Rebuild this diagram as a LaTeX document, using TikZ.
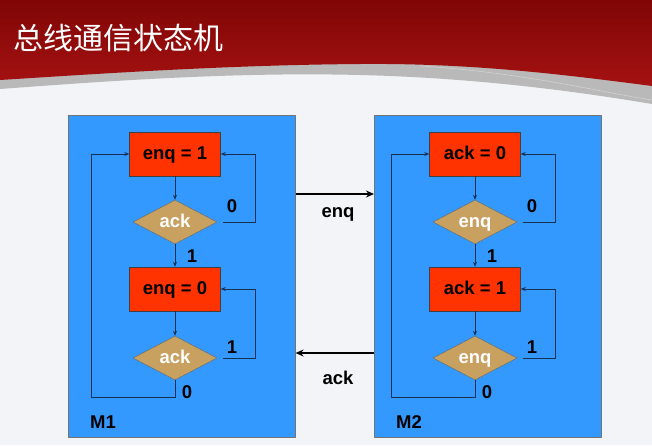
\documentclass[tikz,border=0pt]{standalone}
\usepackage{fontspec}
\setmainfont{Liberation Sans}
\newfontfamily\cjk{Noto Sans CJK SC}
\usetikzlibrary{shapes.geometric,arrows.meta,calc}
\definecolor{headred}{RGB}{165,18,18}
\definecolor{headdark}{RGB}{128,6,6}
\definecolor{pagebg}{RGB}{242,244,247}
\definecolor{boxblue}{RGB}{51,153,255}
\definecolor{statered}{RGB}{255,51,0}
\definecolor{testtan}{RGB}{200,160,96}
\definecolor{wirecol}{RGB}{22,48,82}

\begin{document}
\begin{tikzpicture}[x=1pt,y=-1pt,line join=round,
  font=\bfseries\fontsize{18.5}{21}\selectfont,
  machine/.style={draw=black!55,fill=boxblue,line width=0.6pt,inner sep=0pt,anchor=north west,
    minimum width=227pt,minimum height=322pt},
  state/.style={draw=black!75,fill=statered,minimum width=91pt,minimum height=44pt,inner sep=0pt,
    text height=13pt,text depth=3pt},
  test/.style={diamond,draw=black!60,fill=testtan,text=white,aspect=2,inner sep=0pt,
    minimum width=84pt,minimum height=44pt,text height=13pt,text depth=3pt},
  wire/.style={draw=wirecol,line width=0.8pt,-{Stealth[length=5pt,width=4pt]}},
  bus/.style={draw=black,line width=1.6pt,-{Stealth[length=8pt,width=7pt]}}]
  \useasboundingbox (0,0) rectangle (652,445);
  % page and header band
  \fill[pagebg] (0,0) rectangle (652,445);
  \fill[gray!55] (0,60) -- (0,89) .. controls (120,80) and (240,72) .. (360,75)
    .. controls (480,78) and (580,92) .. (652,104) -- (652,60) -- cycle;
  \shade[top color=headdark,bottom color=headred] (0,0) -- (652,0) -- (652,86)
    .. controls (560,74) and (470,63) .. (360,64) .. controls (230,65) and (110,73) .. (0,80) -- cycle;
  \draw[white,opacity=0.35,line width=0.6pt] (420,66) .. controls (520,72) and (600,92) .. (652,100);
  \node[text=white,anchor=west,font=\cjk\fontsize{30}{32}\selectfont] (title) at (10,38) {总线通信状态机};
  % the two machines
  \foreach \m/\bx/\dx/\out/\va/\vb/\inp in {1/68/0/enq/1/0/ack, 2/374/300/ack/0/1/enq}{
    \node[machine] (box\m) at (\bx,115) {};
    \node[state] (s\m1) at (175+\dx,154) {\out{} = \va};
    \node[test]  (d\m1) at (175+\dx,222) {\inp};
    \node[state] (s\m2) at (175+\dx,289) {\out{} = \vb};
    \node[test]  (d\m2) at (175+\dx,358) {\inp};
    \draw[wire] (s\m1) -- (d\m1);
    \draw[wire] (d\m1) -- (s\m2);
    \draw[wire] (s\m2) -- (d\m2);
    \draw[wire,shorten <=6pt] (d\m1.east) -- ++(38,0) |- (s\m1.east);
    \draw[wire,shorten <=6pt] (d\m2.east) -- ++(38,0) |- (s\m2.east);
    \draw[wire] (d\m2.south) |- ++(-84,17) |- (s\m1.west);
    \node (n\m0) at ($(d\m1)+(57,-16)$) {0};
    \node (n\m1) at ($(d\m1)+(17,34)$) {1};
    \node (n\m2) at ($(d\m2)+(57,-11)$) {1};
    \node (n\m3) at ($(d\m2)+(12,34)$) {0};
    \node (name\m) at ($(box\m.north west)+(35,307)$) {M\m};
  }
  % bus between M1 and M2
  \draw[bus] ($(box1.north east)+(0,79)$) -- ($(box2.north west)+(0,79)$);
  \draw[bus] ($(box2.north west)+(0,238)$) -- ($(box1.north east)+(0,238)$);
  \node (enq) at (338,214) {enq};
  \node (ack) at (338,378) {ack};
\end{tikzpicture}
\end{document}
